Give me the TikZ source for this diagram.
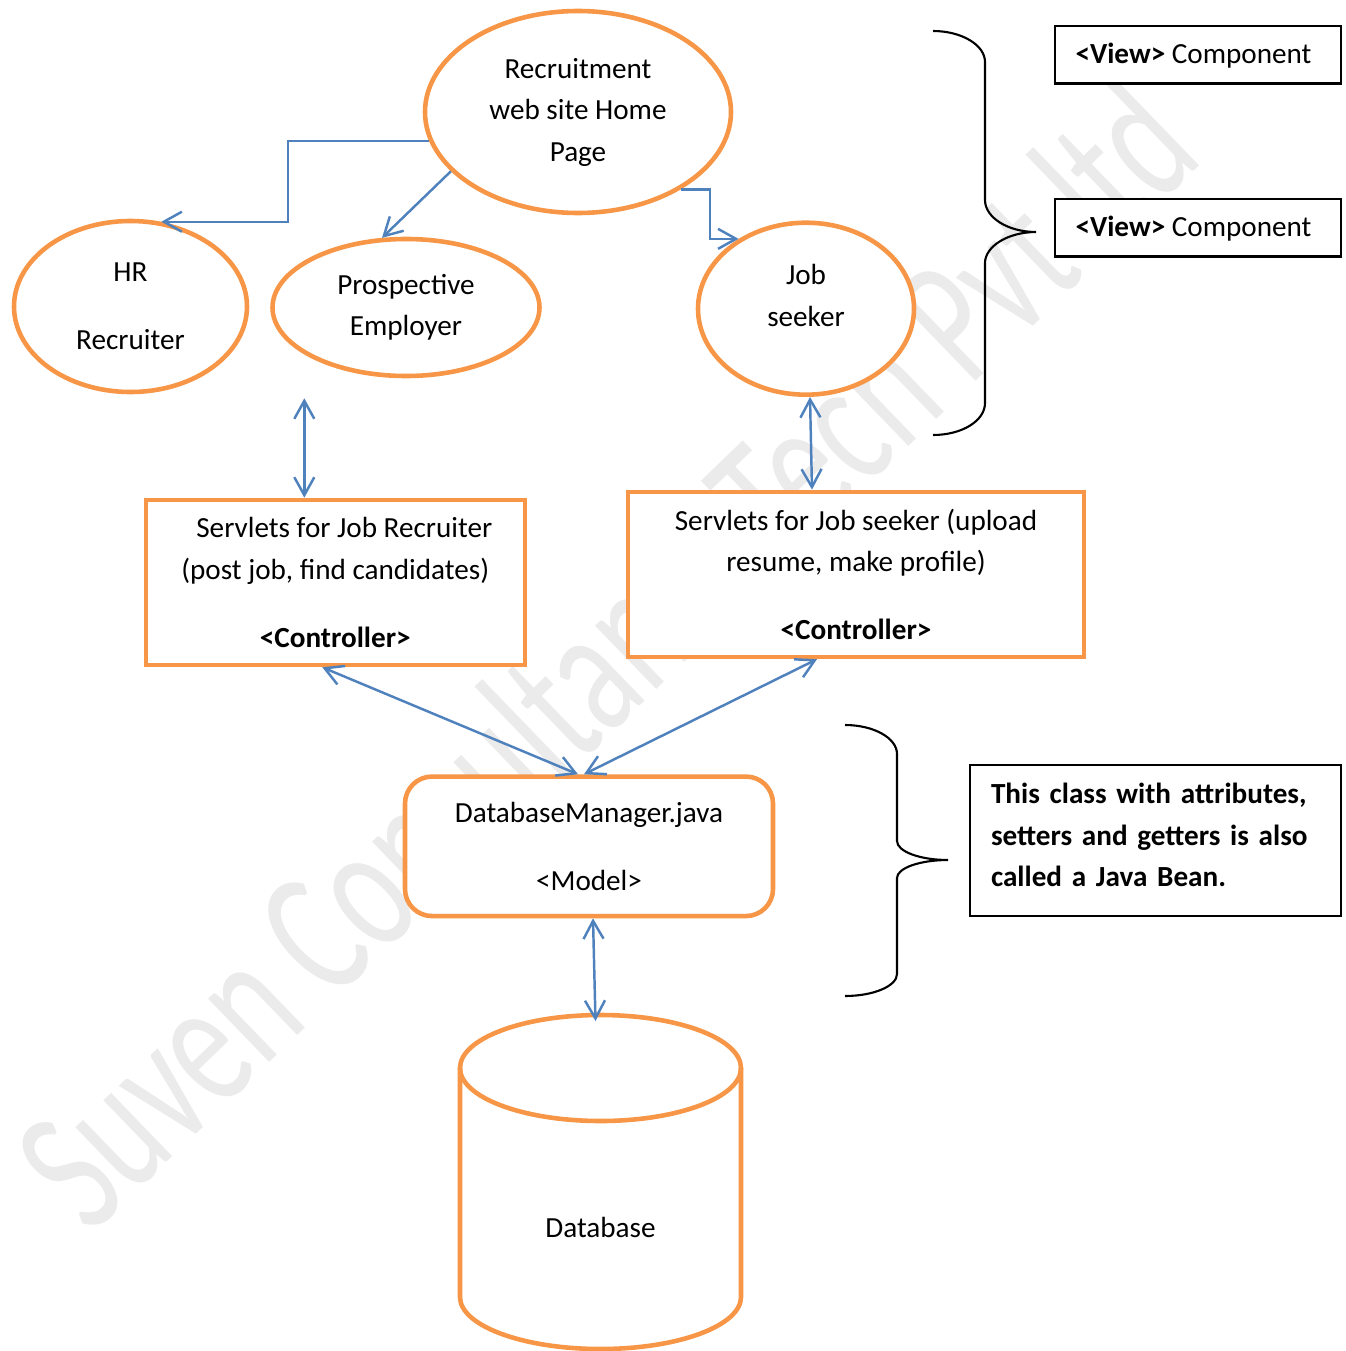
\documentclass[tikz,border=0pt]{standalone}
\usepackage{fontspec}
\setmainfont{Carlito}
\usepackage{tikz}
\usetikzlibrary{positioning}
\usetikzlibrary{arrows.meta}
\usetikzlibrary{shapes.geometric}
\definecolor{myorange}{HTML}{F79646}
\definecolor{myblue}{HTML}{4F81BD}
\definecolor{mygray}{HTML}{EBEBEB}
\newcommand{\diagfont}{\fontsize{8.3}{11.8}\selectfont}
\tikzset{
  myarrow/.style={
    draw=myblue,
    line width=0.7pt,
    ->,
  },
  mydblarrow/.style={
    myarrow,
    <->,
  },
  myellipse/.style={
    draw=myorange,
    fill=white,
    shape=ellipse,
    line width=1.3pt,
    align=center,
    inner sep=0pt,
    font=\diagfont
  },
  mylabel/.style={
    align=center,
    inner sep=0pt,
    font=\diagfont
  },
  myrectangle/.style={
    draw=myorange,
    fill=white,
    shape=rectangle,
    line width=1.3pt,
    align=center,
    inner sep=0pt,
    font=\diagfont
  },
  myroundrect/.style={
    myrectangle,
    rounded corners=0.27cm,
  },
  mycylinder/.style={
    draw=myorange,
    line width=1.3pt,
  },
  mythinsquare/.style={
    draw=black,
    fill=white,
    shape=rectangle,
    line width=0.7pt,
    inner sep=0pt,
    font=\diagfont
  },
  mybrace/.style={
    draw=black,
    line width=0.6pt,
  },
  mywatermark/.style={
    anchor=base,
    rotate=44,
    xscale=0.68,
    inner sep=0pt,
    text=mygray,
    font=\fontsize{52.5}{60}\selectfont
  },
}

\begin{document}
\begin{tikzpicture}[>={Straight Barb[length=1.8mm,width=2mm]}]
    \useasboundingbox (0,0) rectangle (13.46,-13.51);
    \node[mywatermark] (watermark) at (6.48,-6.98) {Suven Consultants Tech Pvt ltd};

    \node[myellipse, minimum width=3.06cm, minimum height=2.02cm] (home)   at (5.78,-1.12)   {Recruitment\\web site Home\\Page};
    \node[myellipse, minimum width=2.33cm, minimum height=1.71cm] (hr)     at (1.305,-3.065) {HR\\[2.65mm]Recruiter};
    \node[myellipse, minimum width=2.67cm, minimum height=1.37cm] (pros)   at (4.06,-3.075)  {Prospective\\Employer};
    \node[myellipse, minimum width=2.16cm, minimum height=1.72cm,
          label={[mylabel, yshift=1.3mm]center:Job\\seeker}] (seeker) at (8.06,-3.087) {};

    \node[myrectangle, minimum width=3.79cm, minimum height=1.65cm] (recsrv)    at (3.353,-5.825) {\hspace*{1.8mm}Servlets for Job Recruiter\\(post job, find candidates)\hspace*{2.4mm}\\[2.65mm]\textbf{<Controller>}};
    \node[myrectangle, minimum width=4.56cm, minimum height=1.65cm] (seekersrv) at (8.56,-5.744)  {Servlets for Job seeker (upload\\resume, make profile)\\[2.65mm]\textbf{<Controller>}};
    \node[myroundrect, minimum width=3.68cm, minimum height=1.395cm] (dbm)      at (5.89,-8.463)  {DatabaseManager.java\\[2.65mm]<Model>};

    % database drawn as a cylinder round an empty node
    \node[mylabel, outer sep=0pt, minimum width=2.81cm, minimum height=3.34cm,
          label={[mylabel, yshift=-4.5mm]center:Database}] (db) at (6.005,-11.82) {};
    \draw[mycylinder] ([yshift=-5.3mm]db.north west) -- ([yshift=5.2mm]db.south west)
      arc[start angle=180, end angle=360, x radius=1.405cm, y radius=5.2mm]
      -- ([yshift=-5.3mm]db.north east);
    \draw[mycylinder] ([yshift=-5.3mm]db.north) ellipse [x radius=1.405cm, y radius=5.3mm];

    \node[mythinsquare, minimum width=2.86cm, minimum height=0.575cm, text height=2.3mm, text depth=0.6mm] (view1) at (11.98,-0.548) {\textbf{<View>} Component\hspace*{0.9mm}};
    \node[mythinsquare, minimum width=2.86cm, minimum height=0.575cm, text height=2.3mm, text depth=0.6mm] (view2) [below=1.13cm of view1] {\textbf{<View>} Component\hspace*{0.9mm}};
    \node[mythinsquare, text width=3.29cm, inner xsep=0.21cm, align=left, minimum height=1.51cm, font=\diagfont\bfseries] (bean) at (11.555,-8.405) {This class with attributes,\\setters and getters is also\\called a Java Bean.\rule[-1.1mm]{0pt}{1.1mm}};

    \draw[myarrow] (home.191) -- ++(-1.41,0) |- (hr.70);
    \draw[myarrow] (home.205) -- (pros.109);
    \draw[myarrow] (home.323) -- ++(0.29,0) |- (seeker.134);

    \draw[mydblarrow, shorten >=2mm] ([xshift=-3.1mm]recsrv.north) -- ([xshift=-3.1mm]recsrv.north |- pros.south);
    \draw[mydblarrow] ([xshift=0.4mm]seeker.south)    -- ([xshift=-4.4mm]seekersrv.north);
    \draw[mydblarrow] ([xshift=-1.3mm]recsrv.south)   -- ([xshift=-1.1mm]dbm.north);
    \draw[mydblarrow] ([xshift=-3.9mm]seekersrv.south) -- ([xshift=-0.5mm]dbm.north);
    \draw[mydblarrow] ([xshift=0.4mm]dbm.south)       -- ([xshift=-0.5mm,yshift=-0.6mm]db.north);

    \draw[mybrace] (9.33,-0.31) .. controls (9.616,-0.31) and (9.85,-0.45) .. (9.85,-0.62)
      -- (9.85,-2.00) .. controls (9.85,-2.176) and (10.08,-2.32) .. (10.36,-2.32)
      .. controls (10.08,-2.32) and (9.85,-2.464) .. (9.85,-2.63)
      -- (9.85,-4.03) .. controls (9.85,-4.21) and (9.616,-4.35) .. (9.33,-4.35);
    \draw[mybrace] (8.45,-7.25) .. controls (8.736,-7.25) and (8.97,-7.38) .. (8.97,-7.54)
      -- (8.97,-8.41) .. controls (8.97,-8.515) and (9.20,-8.60) .. (9.48,-8.60)
      .. controls (9.20,-8.60) and (8.97,-8.68) .. (8.97,-8.78)
      -- (8.97,-9.74) .. controls (8.97,-9.86) and (8.736,-9.96) .. (8.45,-9.96);
\end{tikzpicture}
\end{document}
